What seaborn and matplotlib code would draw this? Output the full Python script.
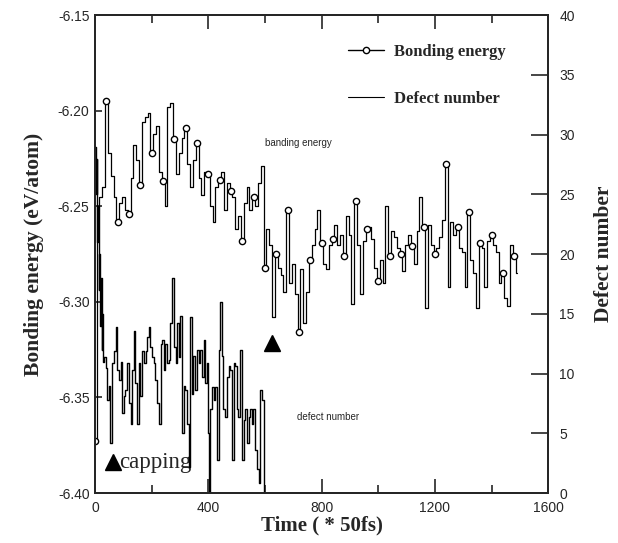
import numpy as np
import pandas as pd
import seaborn as sns
import matplotlib.pyplot as plt
from matplotlib.lines import Line2D
from matplotlib.ticker import MultipleLocator

# bonding energy, sampled every 10 time units
energy_time = list(range(0, 1500, 10))
energy = [
    -6.373, -6.250, -6.245, -6.240, -6.195, -6.222, -6.234, -6.245, -6.258, -6.248,
    -6.245, -6.252, -6.254, -6.235, -6.218, -6.226, -6.239, -6.206, -6.203, -6.201,
    -6.222, -6.212, -6.208, -6.232, -6.237, -6.250, -6.198, -6.196, -6.215, -6.233,
    -6.222, -6.214, -6.209, -6.228, -6.240, -6.226, -6.217, -6.235, -6.244, -6.232,
    -6.233, -6.250, -6.258, -6.240, -6.236, -6.232, -6.252, -6.238, -6.242, -6.245,
    -6.262, -6.255, -6.268, -6.248, -6.240, -6.252, -6.245, -6.250, -6.238, -6.229,
    -6.282, -6.262, -6.270, -6.308, -6.275, -6.282, -6.286, -6.295, -6.252, -6.290,
    -6.280, -6.296, -6.316, -6.283, -6.311, -6.295, -6.278, -6.270, -6.262, -6.252,
    -6.269, -6.280, -6.283, -6.270, -6.267, -6.260, -6.270, -6.265, -6.276, -6.255,
    -6.265, -6.301, -6.247, -6.270, -6.296, -6.268, -6.262, -6.261, -6.267, -6.282,
    -6.289, -6.278, -6.290, -6.250, -6.276, -6.263, -6.266, -6.272, -6.275, -6.284,
    -6.270, -6.265, -6.271, -6.280, -6.263, -6.245, -6.261, -6.303, -6.260, -6.270,
    -6.275, -6.272, -6.266, -6.257, -6.228, -6.292, -6.258, -6.265, -6.261, -6.272,
    -6.274, -6.292, -6.253, -6.278, -6.285, -6.303, -6.269, -6.272, -6.292, -6.268,
    -6.265, -6.270, -6.274, -6.290, -6.285, -6.298, -6.302, -6.270, -6.276, -6.285,
]

# defect number
defect_time = [
    0, 3, 5, 8, 10, 13, 15, 18, 20, 23, 25, 28, 31, 37, 42, 48, 54, 60, 66, 72,
    78, 84, 90, 95, 101, 107, 113, 119, 125, 131, 137, 142, 148, 154, 160, 166, 172, 178, 184, 190,
    195, 201, 207, 213, 219, 225, 231, 237, 243, 248, 254, 260, 266, 272, 278, 284, 290, 296, 301, 307,
    313, 319, 325, 331, 336, 342, 347, 353, 359, 365, 371, 377, 383, 389, 394, 400, 403, 406, 412, 418,
    424, 430, 436, 441, 447, 453, 459, 465, 471, 477, 483, 489, 495, 500, 506, 512, 518, 524, 530, 536,
    542, 547, 553, 559, 565, 571, 577, 583, 589, 595, 598, 1490,
]
defect = [
    29, 25, 28, 21, 24, 17, 20, 14, 18, 12, 15, 11, 11.4, 10.5, 7.8, 9, 4.2, 10.9, 11.9, 13.9,
    10.3, 9.5, 11, 6.7, 8.1, 8.6, 10.9, 7.5, 5.8, 10.3, 13.6, 9.2, 5.8, 10.9, 8.1, 11.9, 10.9, 11.9, 13.1, 13.9,
    12.2, 11.4, 10.9, 9.5, 7.5, 5.8, 12.5, 12.8, 10.3, 12.5, 10.9, 11.1, 14.2, 18.0, 12.2, 10.9, 14.2, 11.4, 14.8, 5.0,
    9.0, 8.6, 5.8, 2.2, 14.75, 8.3, 11.5, 8.6, 12, 10.85, 12, 9.7, 12.8, 9.2, 10.85, 5.0, 0, 7, 8.9, 7.8,
    8.9, 2.8, 12, 16, 11.5, 7, 6.4, 9.7, 10.6, 10.3, 2.8, 10.85, 10.6, 7, 6.4, 12, 2.8, 6.1, 7, 4.2,
    6.4, 7, 5.8, 7, 3.6, 2.0, 0.8, 8.6, 7.8, 3.6, 0, 0,
]

# event markers (triangles)
event_time = [64, 625]
event_energy = [-6.384, -6.3215]

energy_df = pd.DataFrame({"time": energy_time, "energy": energy})
defect_df = pd.DataFrame({"time": defect_time, "defect": defect})

sns.set_style("ticks")
plt.rcParams['font.family'] = ['Liberation Sans', 'DejaVu Sans']
plt.rcParams['xtick.direction'] = 'in'
plt.rcParams['ytick.direction'] = 'in'

fig, ax = plt.subplots(figsize=(6.18, 5.43), dpi=100)
fig.subplots_adjust(left=0.154, right=0.887, top=0.972, bottom=0.092)

sns.lineplot(data=energy_df, x="time", y="energy", ax=ax, color='black', linewidth=0.9,
             marker='o', markersize=4.5, markerfacecolor='white', markeredgecolor='black',
             markeredgewidth=1.0, markevery=4, sort=False, estimator=None,
             drawstyle='steps-mid')

ax2 = ax.twinx()
sns.lineplot(data=defect_df, x="time", y="defect", ax=ax2, color='black', linewidth=1.0,
             sort=False, estimator=None, drawstyle='steps-post')

ax.plot(event_time, event_energy, linestyle='none', marker='^', markersize=11, color='black')

ax.set_xlim(0, 1600)
ax.set_ylim(-6.40, -6.15)
ax2.set_ylim(0, 40)

ax.xaxis.set_major_locator(MultipleLocator(400))
ax.xaxis.set_minor_locator(MultipleLocator(200))
ax.yaxis.set_major_locator(MultipleLocator(0.05))
ax2.yaxis.set_major_locator(MultipleLocator(5))
ax.yaxis.set_major_formatter(plt.FuncFormatter(lambda v, p: f"{v:.2f}"))

ax.tick_params(axis='x', which='major', length=10, width=1.2, top=True, labelsize=10, pad=6)
ax.tick_params(axis='x', which='minor', length=6, width=1.2, top=True)
ax.tick_params(axis='y', which='major', length=5, width=1.2, labelsize=10, pad=4)
ax2.tick_params(axis='y', which='major', length=12, width=1.2, labelsize=10, pad=8)

for a in (ax, ax2):
    for s in a.spines.values():
        s.set_linewidth(1.4)
        s.set_visible(True)

serif = ['Liberation Serif', 'DejaVu Serif']
ax.set_xlabel("Time ( * 50fs)", family=serif, fontweight='bold', fontsize=15, labelpad=0)
ax.set_ylabel("Bonding energy (eV/atom)", family=serif, fontweight='bold', fontsize=15.5, labelpad=10)
ax2.set_ylabel("Defect number", family=serif, fontweight='bold', fontsize=15.5, labelpad=14)

ax.text(600, -6.217, "banding energy", fontsize=7, va='center', ha='left')
ax.text(713, -6.360, "defect number", fontsize=7, va='center', ha='left')
ax.text(85, -6.384, "capping", family=serif, fontsize=16.5, va='center', ha='left')

handles = [
    Line2D([], [], color='black', linewidth=1.0, marker='o', markersize=4.5,
           markerfacecolor='white', markeredgecolor='black'),
    Line2D([], [], color='black', linewidth=0.8),
]
ax.legend(handles, ["Bonding energy", "Defect number"], loc='upper right',
          bbox_to_anchor=(0.94, 0.972), frameon=False, handlelength=2.2, handletextpad=0.6,
          labelspacing=1.9, prop={'family': serif, 'weight': 'bold', 'size': 12})

plt.savefig("out.png", dpi=100)
